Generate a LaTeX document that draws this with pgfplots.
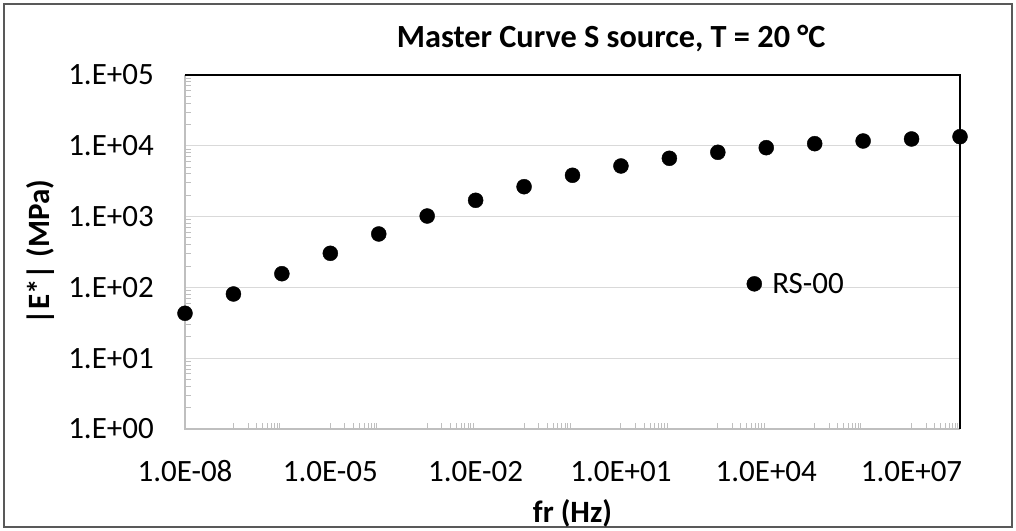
\documentclass[border=0pt]{standalone}
\usepackage{fontspec}
\setmainfont{Carlito}
\usepackage{pgfplots}
\pgfplotsset{compat=1.18}
\definecolor{gridgray}{RGB}{217,217,217}
\definecolor{axisgray}{RGB}{191,191,191}
\definecolor{framegray}{RGB}{89,89,89}

\begin{document}
\begin{tikzpicture}[x=1bp,y=1bp]
\useasboundingbox (0,0) rectangle (1016,531);
% chart area frame
\draw[framegray, line width=1.5bp] (4,4) rectangle (1012,527);
\begin{axis}[
  at={(185bp,102bp)}, anchor=south west,
  scale only axis, width=775bp, height=354bp,
  xmode=log, ymode=log,
  xmin=1e-8, xmax=1e8, ymin=1, ymax=1e5,
  clip=false,
  axis line style={draw=none},
  xtick={1e-8,1e-5,1e-2,1e1,1e4,1e7},
  xticklabels={1.0E-08,1.0E-05,1.0E-02,1.0E+01,1.0E+04,1.0E+07},
  ytick={1,1e1,1e2,1e3,1e4,1e5},
  yticklabels={1.E+00,1.E+01,1.E+02,1.E+03,1.E+04,1.E+05},
  minor xtick={1e-7,2e-7,3e-7,4e-7,5e-7,6e-7,7e-7,8e-7,9e-7,
               1e-5,2e-5,3e-5,4e-5,5e-5,6e-5,7e-5,8e-5,9e-5,
               1e-3,2e-3,3e-3,4e-3,5e-3,6e-3,7e-3,8e-3,9e-3,
               1e-1,2e-1,3e-1,4e-1,5e-1,6e-1,7e-1,8e-1,9e-1,
               1e1,2e1,3e1,4e1,5e1,6e1,7e1,8e1,9e1,
               1e3,2e3,3e3,4e3,5e3,6e3,7e3,8e3,9e3,
               1e5,2e5,3e5,4e5,5e5,6e5,7e5,8e5,9e5,
               1e7,2e7,3e7,4e7,5e7,6e7,7e7,8e7,9e7},
  minor ytick={2,3,4,5,6,7,8,9,
               2e1,3e1,4e1,5e1,6e1,7e1,8e1,9e1,
               2e2,3e2,4e2,5e2,6e2,7e2,8e2,9e2,
               2e3,3e3,4e3,5e3,6e3,7e3,8e3,9e3,
               2e4,3e4,4e4,5e4,6e4,7e4,8e4,9e4},
  xtick pos=left, ytick pos=left,
  tick align=inside,
  major tick length=0pt, minor tick length=6bp,
  minor tick style={axisgray, line width=1bp},
  ymajorgrids, xmajorgrids=false,
  major grid style={gridgray, line width=1.3bp},
  tick label style={font=\fontsize{31bp}{37bp}\selectfont, inner sep=0pt},
  xticklabel style={anchor=base, yshift=-53bp},
  yticklabel style={anchor=east, xshift=-31bp},
  xlabel={\textbf{fr (Hz)}},
  ylabel={\textbf{|E*| (MPa)}},
  label style={font=\fontsize{31bp}{37bp}\selectfont},
  xlabel style={at={(axis description cs:0.5,-0.237)}, anchor=center},
  ylabel style={at={(axis description cs:-0.187,0.5)}, anchor=center},
  title={\textbf{Master Curve S source, T = 20 °C}},
  title style={font=\fontsize{32.3bp}{38bp}\selectfont, at={(axis description cs:0.55,1)}, anchor=base, yshift=22bp},
  legend style={draw=none, fill=none, inner sep=0pt,
    at={(axis description cs:0.724,0.41)}, anchor=west,
    font=\fontsize{31bp}{37bp}\selectfont},
  legend image code/.code={%
    \draw[mark repeat=2,mark phase=2] plot coordinates {(0bp,0bp) (8bp,0bp) (16bp,0bp)};
    \path[draw=none, fill=none] (0bp,0bp) -- (24bp,0bp);},
]
% plot frame: light left/bottom spines, dark top/right spines
\draw[axisgray, line width=1.3bp] (rel axis cs:0,1) -- (rel axis cs:0,0) -- (rel axis cs:1,0);
\draw[black, line width=1.3bp] (rel axis cs:0,1) -- (rel axis cs:1,1) -- (rel axis cs:1,0);
\addplot[only marks, mark=*, mark size=7.5bp, black] coordinates {
  (1e-8,43.1) (1e-7,80.7) (1e-6,156) (1e-5,303) (1e-4,568)
  (1e-3,1019) (1e-2,1699) (1e-1,2644) (1e0,3831) (1e1,5186)
  (1e2,6657) (1e3,8094) (1e4,9400) (1e5,10710) (1e6,11690)
  (1e7,12480) (1e8,13450)
};
\addlegendentry{RS-00}
\end{axis}
\end{tikzpicture}
\end{document}
